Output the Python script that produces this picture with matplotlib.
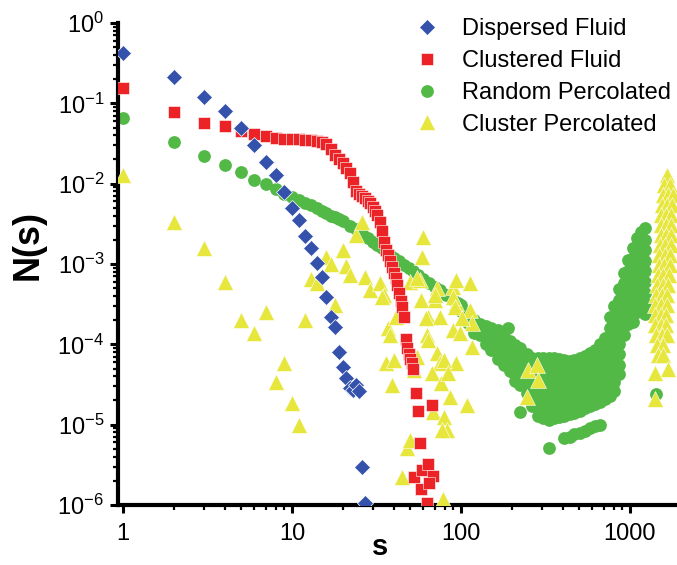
import matplotlib
matplotlib.use("Agg")
import matplotlib.pyplot as plt
from matplotlib.ticker import FixedLocator, LogLocator, FuncFormatter, NullFormatter

plt.rcParams['font.family'] = ['Liberation Sans', 'DejaVu Sans']
plt.rcParams['mathtext.fontset'] = 'custom'
plt.rcParams['mathtext.rm'] = 'Liberation Sans'
plt.rcParams['mathtext.it'] = 'Liberation Sans:italic'
plt.rcParams['mathtext.bf'] = 'Liberation Sans:bold'

# ---------------- data ----------------
labels = ["Dispersed Fluid", "Clustered Fluid", "Random Percolated", "Cluster Percolated"]
colors = ["#3452AC", "#EC2326", "#52B947", "#E6E63C"]

disp_s = [1, 2, 3, 4, 5, 6, 7, 8, 9, 10, 11, 12, 13, 14, 15, 16, 17, 18, 19, 20,
          21, 22, 23, 24, 25, 26, 27]
disp_n = [0.42, 0.21, 0.12, 0.08, 0.049, 0.030, 0.0186, 0.0128, 0.0079, 0.0050,
          0.0035, 0.0022, 0.0016, 0.00102, 6.9e-4, 3.9e-4, 2.2e-4, 1.63e-4, 8.0e-5, 5.2e-5,
          3.8e-5, 2.9e-5, 2.7e-5, 3.1e-5, 2.6e-5, 3.0e-6, 1.05e-6]

clus_s = [1, 2, 3, 4, 5, 6, 7, 8, 9, 10, 11, 12, 13, 14, 15, 16, 17, 18, 19, 20,
          21, 22, 23, 24, 25, 26, 27, 28, 29, 30, 31, 32, 33, 34, 35, 36, 37, 38, 39, 40,
          41, 42, 43, 44, 45, 46, 47, 48, 49, 50, 51, 52,
          54, 56, 67, 57, 53, 59, 64, 68, 58, 65, 63]
clus_n = [0.155, 0.078, 0.057, 0.052, 0.045, 0.042, 0.039, 0.037, 0.036, 0.036,
          0.036, 0.035, 0.035, 0.034, 0.033, 0.031, 0.027, 0.023, 0.020, 0.018,
          0.0155, 0.0135, 0.0105, 0.0082, 0.0075, 0.0071, 0.0066, 0.0061, 0.0057, 0.0051,
          0.0046, 0.0041, 0.0033, 0.0026, 0.0019, 0.0015, 0.0013, 0.0011, 9.2e-4, 7.8e-4,
          6.6e-4, 5.4e-4, 4.4e-4, 3.5e-4, 2.9e-4, 2.2e-4, 1.15e-4, 9.0e-5, 7.5e-5, 6.5e-5,
          5.8e-5, 5.0e-5,
          2.5e-5, 1.5e-5, 1.75e-5, 5.9e-6, 2.2e-6, 2.7e-6, 3.2e-6, 2.3e-6, 1.6e-6, 1.9e-6, 1.05e-6]

rand_s = [1, 2, 3, 4, 5, 6, 7, 8, 9, 10, 11, 12, 13, 14, 15, 16, 17, 18, 19, 20,
          22, 24, 26, 28, 30, 32, 34, 36, 38, 40, 43, 46, 49, 52, 56, 60, 65, 70, 75, 82,
          90, 96]
rand_n = [0.066, 0.033, 0.022, 0.017, 0.0138, 0.011, 0.0100, 0.0085, 0.0075, 0.0068,
          0.0063, 0.0058, 0.0054, 0.0050, 0.0046, 0.0043, 0.0040, 0.0038, 0.0036, 0.0034,
          0.0030, 0.0027, 0.0024, 0.0021, 0.0019, 0.0017, 0.0016, 0.0014, 0.0013, 0.0012,
          0.0011, 9.8e-4, 8.9e-4, 8.2e-4, 7.3e-4, 6.5e-4, 5.8e-4, 5.2e-4, 4.7e-4, 4.1e-4,
          3.6e-4, 3.3e-4]

rand_tail_s = [100, 110, 120, 130, 140, 150, 165, 180, 190, 195, 210, 225, 245, 265, 285,
               305, 330, 355, 380, 410, 440, 470, 505, 540, 580, 620, 665, 710, 760, 810,
               860, 920, 980, 1040, 1100, 1160, 1230, 1420]
rand_tail_n = [
    [3.1e-4, 2.6e-4],
    [2.4e-4, 1.85e-4],
    [2.0e-4, 1.4e-4],
    [1.8e-4, 1.3e-4],
    [1.7e-4, 1.25e-4, 1.0e-4],
    [1.6e-4, 1.2e-4, 8.5e-5],
    [1.5e-4, 1.1e-4, 8.0e-5, 6.5e-5],
    [1.25e-4, 9.5e-5, 7.0e-5, 5.5e-5],
    [1.6e-4],
    [1.1e-4, 8.0e-5, 6.0e-5, 4.6e-5],
    [9.8e-5, 7.3e-5, 5.5e-5, 4.1e-5, 3.5e-5],
    [9.0e-5, 6.8e-5, 5.0e-5, 3.8e-5, 3.1e-5, 1.44e-5],
    [7.5e-5, 5.7e-5, 4.3e-5, 3.3e-5, 2.5e-5],
    [6.8e-5, 5.2e-5, 3.9e-5, 2.9e-5, 2.2e-5, 1.7e-5],
    [6.8e-5, 5.2e-5, 3.9e-5, 2.9e-5, 2.2e-5, 1.6e-5, 1.3e-5],
    [6.8e-5, 5.2e-5, 3.9e-5, 2.9e-5, 2.2e-5, 1.6e-5, 1.2e-5],
    [6.8e-5, 5.2e-5, 3.9e-5, 2.9e-5, 2.2e-5, 1.6e-5, 1.15e-5, 5.1e-6],
    [6.8e-5, 5.2e-5, 3.9e-5, 2.9e-5, 2.2e-5, 1.6e-5, 1.2e-5],
    [6.6e-5, 5.0e-5, 3.8e-5, 2.9e-5, 2.2e-5, 1.65e-5, 1.25e-5],
    [6.3e-5, 4.8e-5, 3.6e-5, 2.7e-5, 2.0e-5, 1.5e-5, 1.3e-5, 6.8e-6],
    [6.2e-5, 4.7e-5, 3.6e-5, 2.7e-5, 2.0e-5, 1.55e-5, 1.35e-5, 7.1e-6],
    [6.4e-5, 4.8e-5, 3.6e-5, 2.7e-5, 2.1e-5, 1.6e-5, 1.4e-5, 7.6e-6],
    [6.8e-5, 5.1e-5, 3.8e-5, 2.9e-5, 2.2e-5, 1.7e-5, 1.5e-5, 7.9e-6],
    [7.1e-5, 5.3e-5, 4.0e-5, 3.0e-5, 2.3e-5, 1.8e-5, 1.6e-5, 8.4e-6],
    [7.7e-5, 5.8e-5, 4.3e-5, 3.2e-5, 2.4e-5, 1.9e-5, 1.7e-5, 9.0e-6],
    [8.5e-5, 6.4e-5, 4.8e-5, 3.6e-5, 2.7e-5, 2.1e-5, 1.8e-5, 9.5e-6],
    [1.0e-4, 7.5e-5, 5.6e-5, 4.2e-5, 3.1e-5, 2.4e-5, 1.9e-5, 1.0e-5],
    [1.2e-4, 9.0e-5, 6.6e-5, 4.9e-5, 3.7e-5, 2.8e-5, 2.1e-5],
    [2.2e-4, 1.6e-4, 1.2e-4, 8.8e-5, 6.5e-5, 4.8e-5, 3.6e-5, 2.7e-5, 2.3e-5],
    [3.0e-4, 2.2e-4, 1.6e-4, 1.2e-4, 8.5e-5, 6.2e-5, 4.6e-5, 3.4e-5, 2.6e-5],
    [4.9e-4, 3.6e-4, 2.6e-4, 1.9e-4, 1.4e-4, 1.0e-4, 7.5e-5, 5.5e-5, 4.3e-5],
    [7.8e-4, 5.8e-4, 4.3e-4, 3.1e-4, 2.3e-4, 1.7e-4, 1.3e-4],
    [1.12e-3, 8.3e-4, 6.1e-4, 4.5e-4, 3.3e-4, 2.4e-4, 1.8e-4],
    [1.6e-3, 1.2e-3, 8.8e-4, 6.5e-4, 4.8e-4, 3.5e-4, 2.6e-4, 1.9e-4],
    [2.1e-3, 1.55e-3, 1.15e-3, 8.5e-4, 6.2e-4, 4.6e-4, 3.4e-4, 2.5e-4],
    [2.5e-3, 1.85e-3, 1.35e-3, 1.0e-3, 7.4e-4, 5.4e-4, 4.0e-4, 3.0e-4],
    [2.8e-3, 2.0e-3, 1.5e-3, 1.1e-3, 8.2e-4, 6.0e-4, 4.4e-4, 3.3e-4, 2.4e-4],
    [2.4e-5],
]

cperc_s = [1, 2, 3, 4, 5, 6, 7, 8, 9, 10, 11, 12, 13, 14, 16, 17, 20, 21, 22, 24,
           26, 27, 29, 33, 35, 18, 37, 41, 36, 40, 39, 38, 53, 63, 72, 75, 67, 94, 76, 86,
           108, 68, 79, 83, 48, 50, 45, 78, 60, 59, 50, 57, 58, 70, 72, 90, 94, 113, 113, 116,
           64, 75, 90, 99, 116, 64, 79, 55, 84, 249, 282, 286, 246, 77, 55, 94, 70, 90, 92, 62,
           101, 34]
cperc_n = [0.0128, 0.0033, 0.0016, 5.9e-4, 2.0e-4, 1.38e-4, 2.5e-4, 3.4e-5, 5.8e-5, 1.85e-5,
           1.0e-5, 2.0e-4, 6.5e-4, 5.8e-4, 1.22e-3, 1.0e-3, 1.5e-3, 9.5e-4, 7.3e-4, 2.3e-3,
           3.3e-3, 6.9e-4, 4.7e-4, 5.8e-4, 4.1e-4, 3.1e-4, 1.6e-4, 2.2e-4, 5.8e-5, 6.4e-5,
           3.1e-5, 1.3e-4, 4.8e-5, 1.3e-4, 7.8e-5, 5.8e-5, 4.4e-5, 5.8e-5, 3.3e-5, 2.2e-5,
           1.75e-5, 1.43e-5, 1.24e-5, 8.5e-6, 5.1e-6, 6.4e-6, 2.2e-6, 1.2e-6, 2.16e-3, 1.22e-3,
           6.0e-4, 6.3e-4, 3.6e-4, 3.6e-4, 5.0e-4, 5.2e-4, 3.3e-4, 5.8e-4, 2.7e-4, 1.84e-4,
           2.2e-4, 2.2e-4, 1.5e-4, 1.38e-4, 9.2e-5, 1.13e-4, 6.4e-5, 6.9e-5, 4.4e-5, 4.8e-5,
           5.5e-5, 3.6e-5, 2.2e-5, 8.5e-6, 6.7e-4, 6.3e-4, 4.1e-4, 3.9e-4, 2.9e-4, 2.1e-4,
           2.1e-4, 3.9e-4]

# column of the cluster percolated run near the largest sizes: one N(s) level, several s
cperc_col_n = [1.28e-2, 9.6e-3, 7.2e-3, 5.4e-3, 4.1e-3, 3.05e-3, 2.29e-3, 1.72e-3, 1.29e-3,
               9.7e-4, 7.3e-4, 5.5e-4, 4.1e-4, 3.1e-4, 2.3e-4, 1.73e-4, 1.3e-4, 9.8e-5, 7.3e-5,
               5.0e-5, 4.4e-5, 2.1e-5]
cperc_col_s = [[1660], [1600, 1720], [1560, 1680, 1800], [1540, 1660, 1780],
               [1530, 1640, 1760], [1520, 1630, 1750], [1520, 1630, 1750], [1500, 1620, 1740],
               [1490, 1610, 1730], [1480, 1600, 1720], [1460, 1580, 1700], [1440, 1560, 1680],
               [1420, 1540, 1660], [1410, 1530, 1650], [1400, 1520, 1640], [1410, 1530, 1640],
               [1420, 1540, 1650], [1440, 1560], [1460, 1580], [1680], [1400], [1400]]

x_ticks = [1, 10, 100, 1000]

# ---------------- figure ----------------
fig = plt.figure(figsize=(6.77, 5.65), dpi=100)
ax = fig.add_axes([118 / 677, 60 / 565, 559 / 677, 482 / 565])

rs = list(rand_s)
rn = list(rand_n)
for s, ys in zip(rand_tail_s, rand_tail_n):
    rs += [s] * len(ys)
    rn += ys
cs = list(cperc_s)
cn = list(cperc_n)
for y, ss in zip(cperc_col_n, cperc_col_s):
    cs += ss
    cn += [y] * len(ss)

h_rand, = ax.plot(rs, rn, 'o', ms=9.2, color=colors[2], mec='none', zorder=2, label=labels[2])
h_cp, = ax.plot(cs, cn, '^', ms=11.5, color=colors[3], mec='white', mew=0.4, zorder=3, label=labels[3])
h_cl, = ax.plot(clus_s, clus_n, 's', ms=8.4, color=colors[1], mec='white', mew=0.4, zorder=4, label=labels[1])
h_d, = ax.plot(disp_s, disp_n, 'D', ms=8.5, color=colors[0], mec='white', mew=0.5, zorder=5, label=labels[0])

ax.set_xscale('log')
ax.set_yscale('log')
ax.set_xlim(0.934, 1900)
ax.set_ylim(1e-6, 1)

ax.xaxis.set_major_locator(FixedLocator(x_ticks))
ax.xaxis.set_major_formatter(FuncFormatter(lambda v, p: f"{int(round(v))}"))
ax.xaxis.set_minor_locator(LogLocator(base=10, subs=[2, 3, 4, 5, 6, 7, 8, 9], numticks=20))
ax.xaxis.set_minor_formatter(NullFormatter())
ax.yaxis.set_major_locator(LogLocator(base=10, numticks=10))
ax.yaxis.set_minor_locator(LogLocator(base=10, subs=[2, 3, 4, 5, 6, 7, 8, 9], numticks=20))
ax.yaxis.set_minor_formatter(NullFormatter())

for side in ['top', 'right']:
    ax.spines[side].set_visible(False)
for side in ['left', 'bottom']:
    ax.spines[side].set_linewidth(3)

ax.tick_params(which='major', direction='out', length=6, width=2.2, labelsize=17, pad=4)
ax.tick_params(which='minor', direction='out', length=3.5, width=1.6,
               labelbottom=False, labelleft=False)
ax.tick_params(axis='x', which='major', pad=7)

ax.set_xlabel('s', fontsize=21, fontweight='bold')
ax.set_ylabel('N(s)', fontsize=26, fontweight='bold')
ax.xaxis.set_label_coords(0.469, -0.058)
ax.yaxis.set_label_coords(-0.13, 0.54)

leg = ax.legend(handles=[h_d, h_cl, h_rand, h_cp], loc='upper left',
                bbox_to_anchor=(415 / 677, 1 - 18 / 565), bbox_transform=fig.transFigure,
                frameon=False, fontsize=17, borderpad=0, handlelength=1.0,
                handletextpad=1.0, labelspacing=0.42, borderaxespad=0)

fig.savefig('out.png', dpi=100)
